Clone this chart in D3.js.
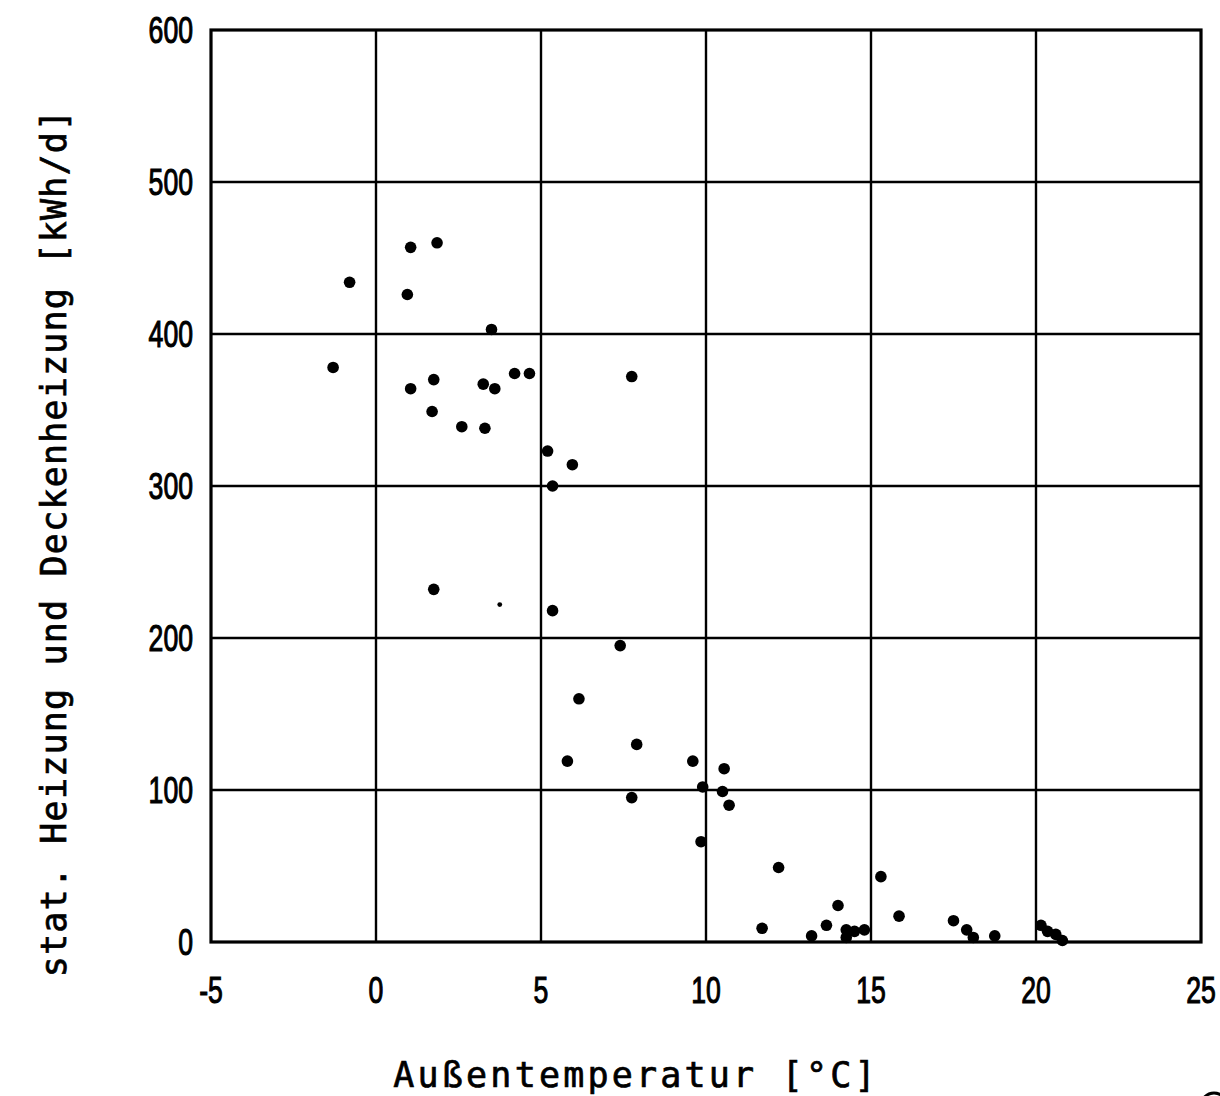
<!DOCTYPE html>
<html>
<head>
<meta charset="utf-8">
<script src="https://cdn.jsdelivr.net/npm/d3@7"></script>
<style>
  html, body { margin: 0; padding: 0; background: #fff; }
  svg { display: block; }
  .tick-label { font-family: "Liberation Sans", sans-serif; font-size: 37px; fill: #000; stroke: #000; stroke-width: 1.1px; }
  .axis-title { font-family: "DejaVu Sans Mono", "Liberation Mono", monospace; font-size: 35px; fill: #000; stroke: #000; stroke-width: 0.7px; }
</style>
</head>
<body>
<div id="chart"></div>
<script>
// Außentemperatur [°C]
const temperatur = [
  -1.3, -0.8, 1.05, 1.85, 0.95, 3.5, 1.05, 1.75, 1.7, 2.6, 3.25, 3.3, 3.6, 4.2, 4.65,
  7.75, 5.2, 5.95, 5.35, 1.75, 5.35, 7.4, 6.15, 5.8, 7.9, 7.75, 9.6, 9.9, 10.55,
  10.5, 10.7, 9.85, 12.2, 15.3, 11.7, 14.0, 13.65, 13.2, 15.85, 14.25, 14.25, 14.5,
  14.8, 17.5, 17.9, 18.1, 18.75, 20.15, 20.35, 20.6, 20.8
];
// stat. Heizung und Deckenheizung [kWh/d]
const waerme = [
  378, 434, 457, 460, 426, 403, 364, 370, 349, 339, 367, 338, 364, 374, 374,
  372, 323, 314, 300, 232, 218, 195, 160, 119, 130, 95, 119, 102, 114,
  99, 90, 66, 49, 43, 9, 24, 11, 4, 17, 8, 3, 7,
  8, 14, 8, 3, 4, 11, 7, 5, 1
];
// kleiner Einzelpunkt
const strayX = [3.75];
const strayY = [222];

const xTicks = [-5, 0, 5, 10, 15, 20, 25];
const yTicks = [0, 100, 200, 300, 400, 500, 600];

const width = 1220, height = 1096;
const margin = { left: 211, right: 19, top: 30, bottom: 154 };

const svg = d3.select('#chart').append('svg')
  .attr('width', width)
  .attr('height', height);

const x = d3.scaleLinear().domain([-5, 25]).range([margin.left, width - margin.right]);
const y = d3.scaleLinear().domain([0, 600]).range([height - margin.bottom, margin.top]);

// Gitter
svg.append('g').selectAll('line').data(xTicks.slice(1, -1)).enter().append('line')
  .attr('x1', d => x(d)).attr('x2', d => x(d))
  .attr('y1', y(0)).attr('y2', y(600))
  .attr('stroke', '#000').attr('stroke-width', 2.4);

svg.append('g').selectAll('line').data(yTicks.slice(1, -1)).enter().append('line')
  .attr('y1', d => y(d)).attr('y2', d => y(d))
  .attr('x1', x(-5)).attr('x2', x(25))
  .attr('stroke', '#000').attr('stroke-width', 2.4);

// Rahmen
svg.append('rect')
  .attr('x', x(-5)).attr('y', y(600))
  .attr('width', x(25) - x(-5)).attr('height', y(0) - y(600))
  .attr('fill', 'none').attr('stroke', '#000').attr('stroke-width', 3.2);

// Achsenbeschriftung (schmale Ziffern)
svg.append('g').selectAll('text').data(yTicks).enter().append('text')
  .attr('class', 'tick-label')
  .attr('transform', d => `translate(${x(-5) - 18},${y(d)}) scale(0.72,1)`)
  .attr('dy', '0.36em')
  .attr('text-anchor', 'end')
  .text(d => d);

svg.append('g').selectAll('text').data(xTicks).enter().append('text')
  .attr('class', 'tick-label')
  .attr('transform', d => `translate(${x(d)},${y(0) + 61}) scale(0.72,1)`)
  .attr('text-anchor', 'middle')
  .text(d => d);

// Punkte
const pts = temperatur.map((t, i) => ({ t: t, w: waerme[i] }));
svg.append('g').selectAll('circle').data(pts).enter().append('circle')
  .attr('cx', d => x(d.t))
  .attr('cy', d => y(d.w))
  .attr('r', 5.8)
  .attr('fill', '#000');

svg.append('g').selectAll('circle').data(strayX).enter().append('circle')
  .attr('cx', d => x(d))
  .attr('cy', (d, i) => y(strayY[i]))
  .attr('r', 2.4)
  .attr('fill', '#000');

// Titel
svg.append('text')
  .attr('class', 'axis-title')
  .attr('x', 636)
  .attr('y', 1087)
  .attr('text-anchor', 'middle')
  .style('letter-spacing', '3.2px')
  .text('Außentemperatur [°C]');

svg.append('text')
  .attr('class', 'axis-title')
  .attr('transform', 'translate(66,543) rotate(-90)')
  .attr('text-anchor', 'middle')
  .style('letter-spacing', '1.2px')
  .text('stat. Heizung und Deckenheizung [kWh/d]');

// angeschnittenes Zeichen unten rechts
svg.append('circle')
  .attr('cx', 1214).attr('cy', 1106).attr('r', 13)
  .attr('fill', 'none').attr('stroke', '#000').attr('stroke-width', 3);
</script>
</body>
</html>
